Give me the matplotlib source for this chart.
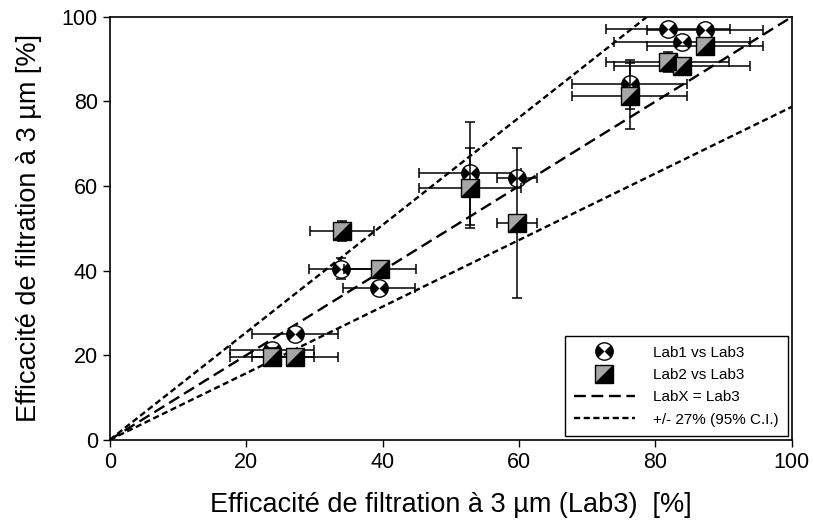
import numpy as np
import matplotlib
matplotlib.use("Agg")
import matplotlib.pyplot as plt
from matplotlib.path import Path
from matplotlib.lines import Line2D

plt.rcParams["font.family"] = ["Liberation Sans", "DejaVu Sans"]

# Lab1 vs Lab3
lab1_x = [81.8, 83.9, 87.2, 76.2, 52.8, 59.7, 33.9, 39.5, 27.2, 23.8]
lab1_y = [97.2, 94.0, 96.8, 84.1, 63.0, 62.0, 40.5, 36.0, 25.0, 21.3]
lab1_xerr = [9.1, 10.0, 8.5, 8.5, 7.5, 2.9, 4.7, 5.3, 6.3, 6.1]
lab1_yerr = [0.0, 0.0, 0.0, 5.8, 12.2, 0.0, 2.4, 0.0, 0.0, 0.0]

# Lab2 vs Lab3
lab2_x = [81.8, 83.9, 87.2, 76.2, 52.8, 59.7, 34.0, 39.6, 23.8, 27.2]
lab2_y = [89.3, 88.5, 93.2, 81.2, 59.6, 51.3, 49.4, 40.3, 19.7, 19.7]
lab2_xerr = [9.0, 10.0, 8.5, 8.5, 7.5, 2.9, 4.7, 5.3, 6.1, 6.3]
lab2_yerr = [2.4, 0.0, 0.0, 7.8, 9.5, 17.8, 2.4, 0.0, 2.0, 0.0]

ci = 0.27
line_x = [0, 100]
ticks = [0, 20, 40, 60, 80, 100]

# custom markers
bowtie = Path.make_compound_path(Path.wedge(135, 225), Path.wedge(-45, 45))
half_tri = Path([(1, 1), (1, -1), (-1, -1), (1, 1)],
                [Path.MOVETO, Path.LINETO, Path.LINETO, Path.CLOSEPOLY])

fig = plt.figure(figsize=(8.13, 5.28), dpi=100)
ax = fig.add_axes([0.135, 0.167, 0.839, 0.801])

lx = np.array(line_x, dtype=float)
ax.plot(lx, lx, color="black", lw=1.7, dashes=(5.0, 2.4), zorder=1)
ax.plot(lx, lx * (1 + ci), color="black", lw=1.7, dashes=(2.6, 1.5), zorder=1)
ax.plot(lx, lx / (1 + ci), color="black", lw=1.7, dashes=(2.6, 1.5), zorder=1)

ms = 12.5
ax.errorbar(lab1_x, lab1_y, xerr=lab1_xerr, yerr=lab1_yerr, fmt="none",
            ecolor="black", elinewidth=1.1, capsize=3.5, capthick=1.1, zorder=2)
ax.plot(lab1_x, lab1_y, "o", ms=ms, mfc="white", mec="black", mew=1.0, zorder=3)
ax.plot(lab1_x, lab1_y, marker=bowtie, ls="none", ms=ms, color="black", mew=0, zorder=3)

ax.errorbar(lab2_x, lab2_y, xerr=lab2_xerr, yerr=lab2_yerr, fmt="none",
            ecolor="black", elinewidth=1.1, capsize=3.5, capthick=1.1, zorder=4)
ax.plot(lab2_x, lab2_y, "s", ms=ms, mfc="#a6a6a6", mec="black", mew=1.0, zorder=5)
ax.plot(lab2_x, lab2_y, marker=half_tri, ls="none", ms=ms, color="black", mew=0, zorder=5)

ax.set_xlim(0, 100)
ax.set_ylim(0, 100)
ax.set_xticks(ticks)
ax.set_yticks(ticks)
ax.tick_params(direction="out", length=5, width=1.0, labelsize=15.5, top=False, right=False)
for s in ax.spines.values():
    s.set_linewidth(1.2)

ax.set_xlabel("Efficacité de filtration à 3 µm (Lab3)  [%]", fontsize=19.5, labelpad=14)
ax.set_ylabel("Efficacité de filtration à 3 µm [%]", fontsize=19.5, labelpad=14)

h1 = (Line2D([], [], marker="o", ls="none", ms=ms, mfc="white", mec="black", mew=1.0),
      Line2D([], [], marker=bowtie, ls="none", ms=ms, color="black", mew=0))
h2 = (Line2D([], [], marker="s", ls="none", ms=ms, mfc="#a6a6a6", mec="black", mew=1.0),
      Line2D([], [], marker=half_tri, ls="none", ms=ms, color="black", mew=0))
h3 = Line2D([], [], color="black", lw=1.7, dashes=(5.0, 2.4))
h4 = Line2D([], [], color="black", lw=1.7, dashes=(2.6, 1.5))
leg = ax.legend([h1, h2, h3, h4],
                ["Lab1 vs Lab3", "Lab2 vs Lab3", "LabX = Lab3", "+/- 27% (95% C.I.)"],
                loc="lower right", fontsize=11, frameon=True, fancybox=False,
                edgecolor="black", framealpha=1, handlelength=4.0, borderaxespad=0.25,
                labelspacing=0.55, handletextpad=1.2, borderpad=0.6)
leg.get_frame().set_linewidth(1.0)

fig.savefig("out.png", dpi=100)
